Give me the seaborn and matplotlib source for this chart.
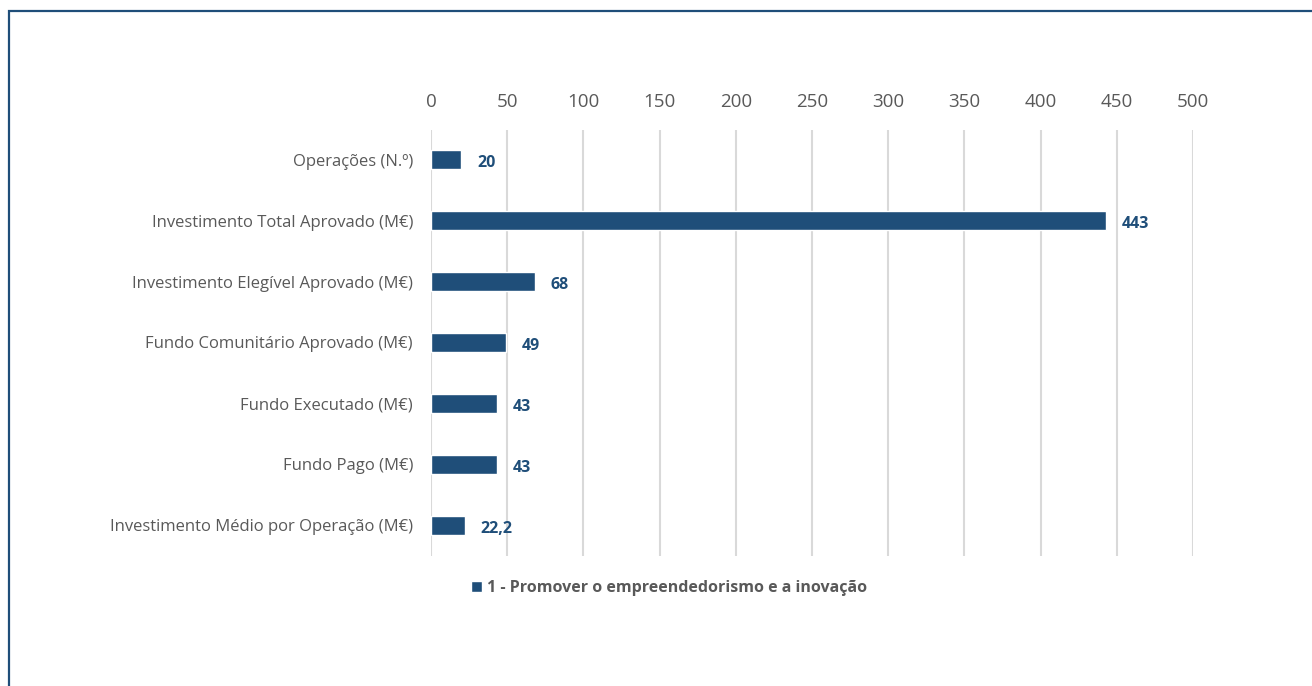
import matplotlib
matplotlib.use("Agg")
import matplotlib.pyplot as plt
import seaborn as sns
import pandas as pd
from matplotlib.patches import Rectangle

categories = [
    "Operações (N.º)",
    "Investimento Total Aprovado (M€)",
    "Investimento Elegível Aprovado (M€)",
    "Fundo Comunitário Aprovado (M€)",
    "Fundo Executado (M€)",
    "Fundo Pago (M€)",
    "Investimento Médio por Operação (M€)",
]
values = [20, 443, 68, 49, 43, 43, 22.2]
value_labels = ["20", "443", "68", "49", "43", "43", "22,2"]
series_name = "1 - Promover o empreendedorismo e a inovação"
x_ticks = [0, 50, 100, 150, 200, 250, 300, 350, 400, 450, 500]

BLUE = "#1F4E79"
GRAY = "#595959"
GRID = "#D9D9D9"

sns.set_theme(style="white")
plt.rcParams["font.family"] = ["Open Sans", "DejaVu Sans"]

df = pd.DataFrame({"cat": categories, "val": values})

W, H = 1312, 686
fig = plt.figure(figsize=(W / 100, H / 100), dpi=100)
ax = fig.add_axes([431 / W, 1 - 555.5 / H, (1193 - 431) / W, (555.5 - 129.5) / H])

sns.barplot(data=df, y="cat", x="val", orient="h", color=BLUE, width=0.31,
            saturation=1, ax=ax, label=series_name)

ax.set_xlim(0, 500)
ax.set_ylim(6.5, -0.5)
ax.set_xticks(x_ticks)
ax.xaxis.tick_top()
ax.tick_params(axis="x", length=0, pad=13.5, labelsize=13.5, labelcolor=GRAY)
ax.tick_params(axis="y", length=0, pad=13, labelsize=12, labelcolor=GRAY)
ax.set_xlabel("")
ax.set_ylabel("")
for s in ax.spines.values():
    s.set_visible(False)
ax.grid(axis="x", color=GRID, linewidth=1.5)
ax.set_axisbelow(True)

for i, (v, lab) in enumerate(zip(values, value_labels)):
    ax.annotate(lab, xy=(v, i), xytext=(11.5, -2.5), textcoords="offset points",
                ha="left", va="center", fontsize=11.5, fontweight="bold", color=BLUE)

handles, labels = ax.get_legend_handles_labels()
if ax.get_legend() is not None:
    ax.get_legend().remove()
fig.legend(handles, labels, loc="center", bbox_to_anchor=(669 / W, 1 - 588 / H),
           frameon=False, handlelength=0.72, handleheight=0.72, handletextpad=0.3,
           prop={"size": 11.5, "weight": "bold"}, labelcolor=GRAY)

fig.patches.append(Rectangle((9 / W, -0.1), 1.2, (1 - 11 / H) + 0.1, transform=fig.transFigure,
                             fill=False, edgecolor=BLUE, linewidth=1.6, clip_on=False))

fig.savefig("out.png", dpi=100)
